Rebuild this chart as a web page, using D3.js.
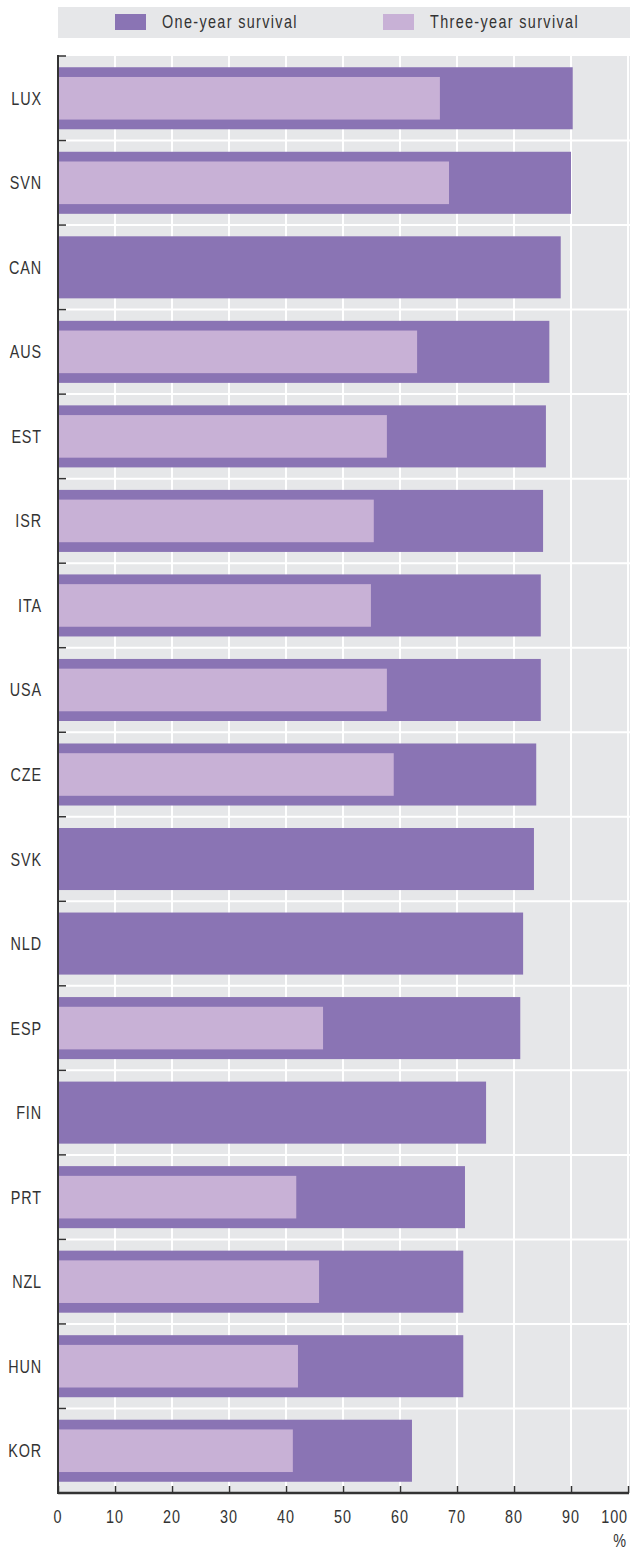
<!DOCTYPE html>
<html>
<head>
<meta charset="utf-8">
<script src="https://cdn.jsdelivr.net/npm/d3@7"></script>
<style>
  html, body { margin: 0; padding: 0; background: #ffffff; }
  svg { display: block; }
  text { font-family: "Liberation Sans", Arial, sans-serif; fill: #333333; }
</style>
</head>
<body>
<script>
const categories = ["LUX","SVN","CAN","AUS","EST","ISR","ITA","USA","CZE","SVK","NLD","ESP","FIN","PRT","NZL","HUN","KOR"];
const oneYear   = [90.3, 90.0, 88.2, 86.2, 85.6, 85.1, 84.7, 84.7, 83.9, 83.5, 81.6, 81.1, 75.1, 71.4, 71.1, 71.1, 62.1];
const threeYear = [67.0, 68.6, null, 63.0, 57.7, 55.4, 54.9, 57.7, 58.9, null, null, 46.5, null, 41.8, 45.8, 42.1, 41.2];
const seriesNames = ["One-year survival", "Three-year survival"];
const xTicks = [0,10,20,30,40,50,60,70,80,90,100];
const unitLabel = "%";

const W = 630, H = 1549;
const colDark = "#8a74b4", colLight = "#c8b1d6", bg = "#e6e7e9", ink = "#333333";
const SX = 0.8, FS = 18, LS = 1.1;

const svg = d3.select("body").append("svg").attr("width", W).attr("height", H);

function ctext(parent, tx, ty, str, anchor, ls) {
  return parent.append("text")
    .attr("transform", `translate(${tx},${ty}) scale(${SX},1)`)
    .attr("text-anchor", anchor || "start")
    .attr("font-size", FS).attr("letter-spacing", ls == null ? LS : ls)
    .text(str);
}

const x = d3.scaleLinear().domain([0, 100]).range([58, 628]);
const y = d3.scaleBand().domain(categories).range([56, 1493]).padding(0);
const bw = y.bandwidth();

// legend
svg.append("rect").attr("x", 58).attr("y", 7).attr("width", 572).attr("height", 31).attr("fill", bg);
const legX = [115, 383];
seriesNames.forEach((n, i) => {
  svg.append("rect").attr("x", legX[i]).attr("y", 14).attr("width", 31).attr("height", 16)
    .attr("fill", i === 0 ? colDark : colLight);
  ctext(svg, legX[i] + 47, 28, n, "start", 1.7);
});

// plot background
svg.append("rect").attr("x", 58).attr("y", 56).attr("width", 572).attr("height", 1437).attr("fill", bg);

// vertical grid
svg.append("g").selectAll("line").data(xTicks.slice(1)).join("line")
  .attr("x1", d => x(d)).attr("x2", d => x(d)).attr("y1", 56).attr("y2", 1493)
  .attr("stroke", "#ffffff").attr("stroke-width", 2);
// horizontal grid at band boundaries
svg.append("g").selectAll("line").data(categories.slice(1)).join("line")
  .attr("x1", 58).attr("x2", 630).attr("y1", d => y(d)).attr("y2", d => y(d))
  .attr("stroke", "#ffffff").attr("stroke-width", 2);

// bars
const rows = categories.map((c, i) => ({ c, one: oneYear[i], three: threeYear[i] }));
svg.append("g").selectAll("rect").data(rows).join("rect")
  .attr("x", x(0)).attr("y", d => y(d.c) + bw * 0.133).attr("height", bw * 0.734)
  .attr("width", d => x(d.one) - x(0)).attr("fill", colDark);
svg.append("g").selectAll("rect").data(rows.filter(d => d.three != null)).join("rect")
  .attr("x", x(0)).attr("y", d => y(d.c) + bw * 0.248).attr("height", bw * 0.504)
  .attr("width", d => x(d.three) - x(0)).attr("fill", colLight);

// y axis
const yAxisG = svg.append("g");
yAxisG.append("line").attr("x1", 58).attr("x2", 58).attr("y1", 55).attr("y2", 1494)
  .attr("stroke", ink).attr("stroke-width", 2);
yAxisG.selectAll("line.t").data(categories).join("line").attr("class", "t")
  .attr("x1", 58).attr("x2", 66).attr("y1", d => y(d)).attr("y2", d => y(d))
  .attr("stroke", ink).attr("stroke-width", 1.5);
categories.forEach(c => ctext(yAxisG, 42, y(c) + bw / 2 + 6.5, c, "end"));

// x axis
const xAxis = d3.axisBottom(x).tickValues(xTicks).tickSize(-7).tickFormat("");
const xg = svg.append("g").attr("transform", "translate(0,1493)").call(xAxis);
xg.select(".domain").attr("stroke", ink).attr("stroke-width", 2.5).attr("d", "M58,0H629");
xg.selectAll(".tick line").attr("stroke", ink).attr("stroke-width", 1.5);
xTicks.forEach((t, i) => {
  const last = i === xTicks.length - 1;
  ctext(svg, last ? 628 : x(t), 1523, d3.format("d")(t), last ? "end" : "middle");
});
ctext(svg, 627, 1547, unitLabel, "end");
</script>
</body>
</html>
